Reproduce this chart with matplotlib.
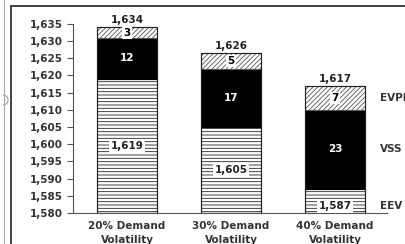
import numpy as np
import matplotlib
matplotlib.use('Agg')
import matplotlib.pyplot as plt
from matplotlib.patches import Rectangle, Arc
from matplotlib.lines import Line2D

# data
categories = ['20% Demand\nVolatility', '30% Demand\nVolatility', '40% Demand\nVolatility']
eev = [1619, 1605, 1587]
vss = [12, 17, 23]
evpi = [3, 4.6, 7]
totals = ['1,634', '1,626', '1,617']
eev_labels = ['1,619', '1,605', '1,587']
yticks = [1580, 1585, 1590, 1595, 1600, 1605, 1610, 1615, 1620, 1625, 1630, 1635]

plt.rcParams['hatch.linewidth'] = 0.6
fig = plt.figure(figsize=(4.05, 2.44), dpi=100)
ax = fig.add_axes([0.180, 0.127, 0.776, 0.775])

x = np.arange(len(categories))
w = 0.57
base = 1580
eev = np.array(eev)
vss = np.array(vss)
evpi = np.array(evpi, dtype=float)

ax.bar(x, eev - base, w, bottom=base, color='white', edgecolor='#222222',
       hatch='-----', linewidth=0.8)
ax.bar(x, vss, w, bottom=eev, color='black', edgecolor='black', linewidth=0.8)
ax.bar(x, evpi, w, bottom=eev + vss, color='white', edgecolor='#555555',
       hatch='///////', linewidth=0.8)
# outline
ax.bar(x, eev + vss + evpi - base, w, bottom=base, color='none',
       edgecolor='#222222', linewidth=0.8)

fs = 7.5
for i in range(len(x)):
    top = eev[i] + vss[i] + evpi[i]
    ax.text(x[i], top + 0.6, totals[i], ha='center', va='bottom',
            fontsize=fs, fontweight='bold', color='#222222', clip_on=False)
    ax.text(x[i], eev[i] + vss[i] + evpi[i] / 2, str(int(round(evpi[i]))),
            ha='center', va='center', fontsize=fs, fontweight='bold', color='black',
            bbox=dict(boxstyle='square,pad=0.1', fc='white', ec='none'))
    ax.text(x[i], eev[i] + vss[i] / 2, str(vss[i]), ha='center', va='center',
            fontsize=fs, fontweight='bold', color='white')
    ymid = (base + eev[i]) / 2 if i < 2 else base + 1.9
    ax.text(x[i], ymid, eev_labels[i], ha='center', va='center',
            fontsize=fs, fontweight='bold', color='#222222',
            bbox=dict(boxstyle='square,pad=0.15', fc='white', ec='none'))

# series names at right
ax.text(x[2] + w / 2 + 0.15, eev[2] + vss[2] + evpi[2] / 2, 'EVPI', ha='left', va='center',
        fontsize=fs, fontweight='bold', color='#333333', clip_on=False)
ax.text(x[2] + w / 2 + 0.15, eev[2] + vss[2] / 2, 'VSS', ha='left', va='center',
        fontsize=fs, fontweight='bold', color='#333333', clip_on=False)
ax.text(x[2] + w / 2 + 0.15, base + 1.9, 'EEV', ha='left', va='center',
        fontsize=fs, fontweight='bold', color='#333333', clip_on=False)

ax.set_xlim(-0.52, 2.5)
ax.set_ylim(1580, 1635)
ax.set_yticks(yticks)
ax.set_yticklabels(['{:,}'.format(v) for v in yticks], fontsize=fs,
                   fontweight='bold', color='#333333')
ax.set_xticks(x)
ax.set_xticklabels(categories, fontsize=fs, fontweight='bold', color='#333333',
                   linespacing=1.4)
ax.tick_params(axis='x', length=0, pad=6)
ax.tick_params(axis='y', length=4, width=0.8, color='#555555', pad=3)
for s in ['top', 'right']:
    ax.spines[s].set_visible(False)
ax.spines['left'].set_color('#555555')
ax.spines['bottom'].set_color('#555555')

# frame around the chart and the neighbouring line
fig.patches.append(Rectangle((10.5 / 405, -0.1), 1.0, 1 - 5.5 / 244 + 0.1,
                             transform=fig.transFigure, fill=False,
                             edgecolor='#333333', linewidth=1.3))
fig.lines.append(Line2D([4 / 405, 4 / 405], [0, 1], transform=fig.transFigure,
                        color='#aaaaaa', linewidth=0.8))
fig.patches.append(Arc((3 / 405, 1 - 100 / 244), 10 / 405, 10 / 244, theta1=-90, theta2=90,
                       transform=fig.transFigure, color='#999999', linewidth=0.8))

plt.savefig('out.png', dpi=100)
